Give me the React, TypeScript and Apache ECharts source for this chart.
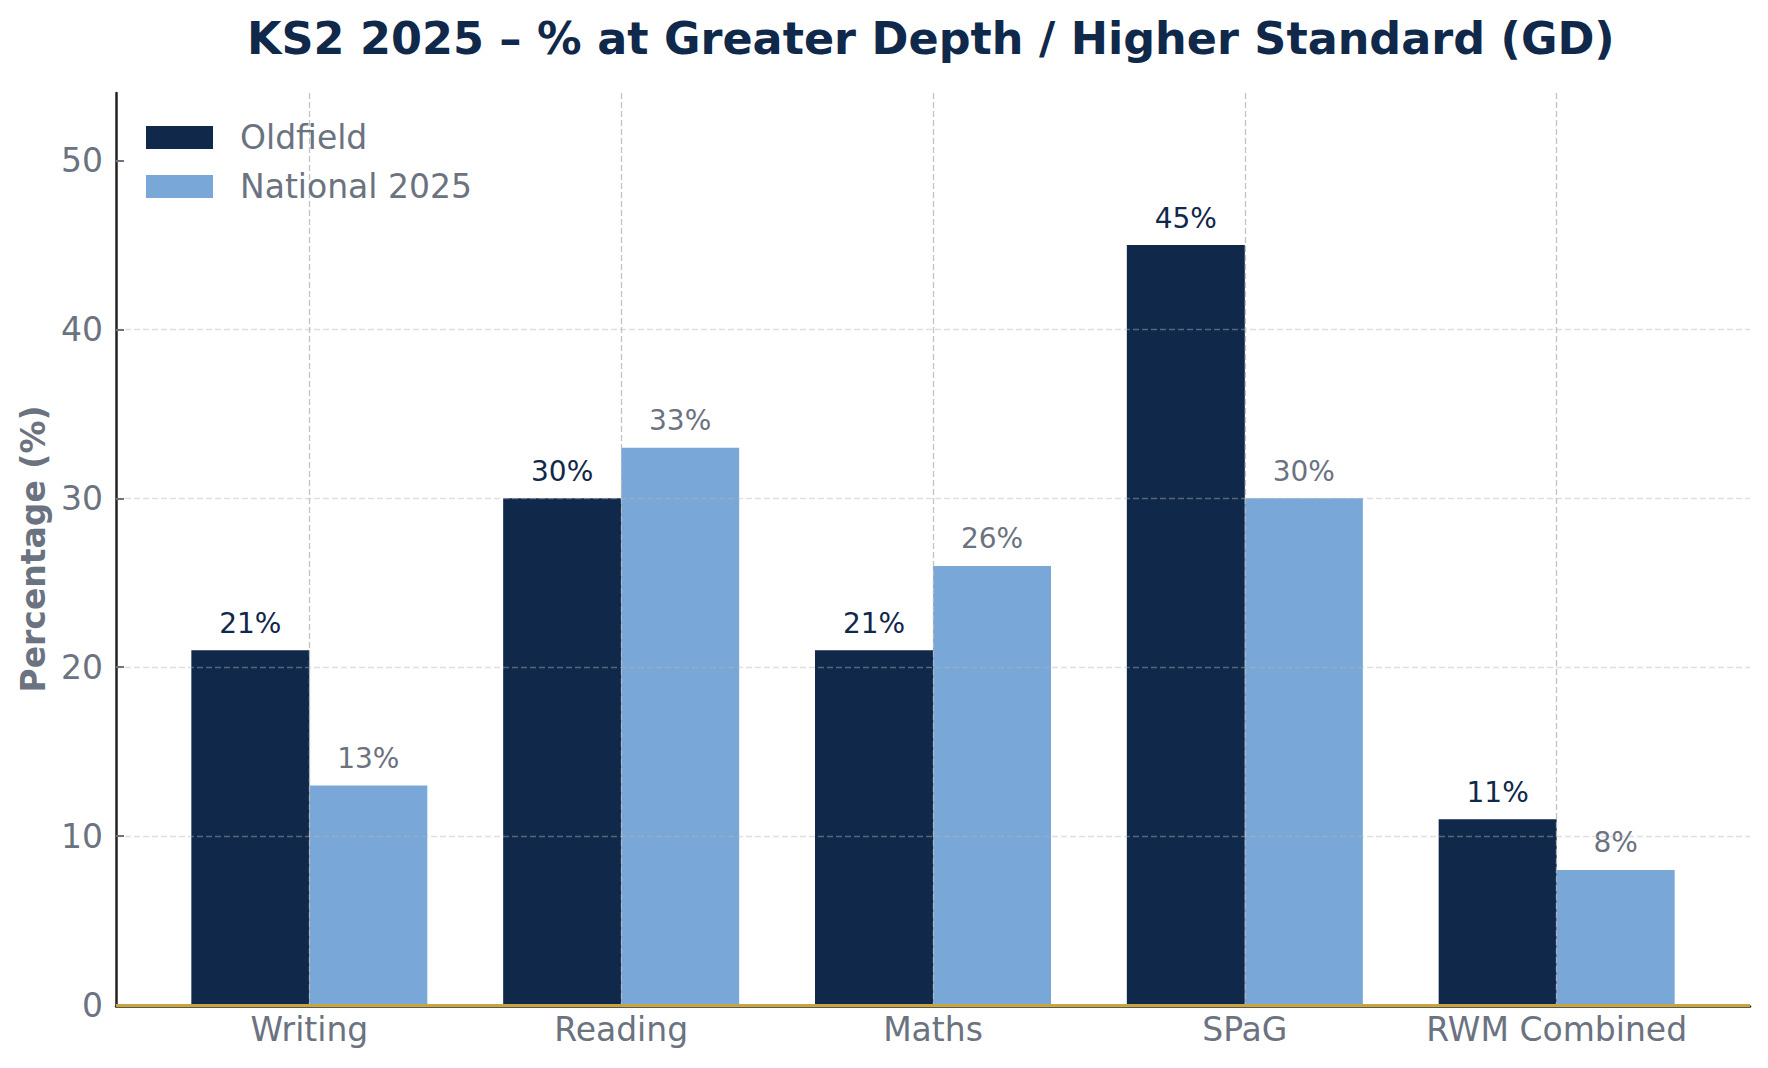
import React, { useEffect, useRef } from "react";
import * as echarts from "echarts";

const categories = ["Writing", "Reading", "Maths", "SPaG", "RWM Combined"];
const oldfield = [21, 30, 21, 45, 11];
const national = [13, 33, 26, 30, 8];
const yTicks = [0, 10, 20, 30, 40, 50];
const seriesNames = ["Oldfield", "National 2025"];
const titleText = "KS2 2025 – % at Greater Depth / Higher Standard (GD)";

const NAVY = "#10284a";
const BLUE = "#78a7d8";
const GRAY = "#6b7280";
const FONT = "DejaVu Sans";

export default function App() {
  const ref = useRef<HTMLDivElement>(null);
  useEffect(() => {
    document.body.style.margin = "0";
    if (!ref.current) return;
    const chart = echarts.init(ref.current, null, { renderer: "svg" });
    const gridH = {
      color: "rgba(185,185,185,0.44)",
      width: 1.3,
      type: [6, 3] as any,
    };
    chart.setOption({
      animation: false,
      textStyle: { fontFamily: FONT },
      title: {
        text: titleText,
        left: 247,
        top: 16,
        padding: 0,
        textStyle: { fontFamily: FONT, fontSize: 44.5, fontWeight: "bold", color: NAVY },
      },
      legend: {
        orient: "vertical",
        left: 146,
        top: 121,
        padding: 0,
        itemGap: 16,
        itemWidth: 67,
        itemHeight: 23,
        icon: "rect",
        data: seriesNames,
        textStyle: { fontFamily: FONT, fontSize: 33, color: GRAY, padding: [0, 0, 0, 22] },
      },
      grid: { left: 116, right: 18, top: 93, bottom: 63, containLabel: false },
      xAxis: {
        type: "value",
        min: -0.62,
        max: 4.62,
        splitNumber: 5,
        z: 3,
        offset: 1,
        axisLine: { show: true, onZero: false, lineStyle: { color: "#222", width: 2.5 } },
        axisTick: { show: false },
        axisLabel: {
          fontFamily: FONT,
          fontSize: 33,
          color: GRAY,
          margin: 7,
          formatter: (v: number) =>
            Number.isInteger(v) && v >= 0 && v < categories.length ? categories[v] : "",
        },
        splitLine: {
          show: true,
          showMinLine: false,
          showMaxLine: false,
          lineStyle: { color: "rgba(185,185,185,0.85)", width: 1.3, type: [6, 3] },
        },
      },
      yAxis: {
        type: "value",
        min: 0,
        max: 54,
        interval: 10,
        z: 3,
        name: "Percentage (%)",
        nameLocation: "middle",
        nameGap: 64,
        nameTextStyle: { fontFamily: FONT, fontSize: 33, fontWeight: "bold", color: GRAY },
        axisLine: { show: true, onZero: false, lineStyle: { color: "#222", width: 2.5 } },
        axisTick: {
          show: true,
          inside: true,
          length: 8,
          customValues: yTicks,
          lineStyle: { color: GRAY, width: 2 },
        },
        axisLabel: {
          fontFamily: FONT,
          fontSize: 33,
          color: GRAY,
          margin: 13,
          customValues: yTicks,
          formatter: (v: number) => (v % 10 === 0 ? String(v) : ""),
        },
        splitLine: {
          show: true,
          showMinLine: false,
          showMaxLine: false,
          lineStyle: gridH,
        },
      },
      series: [
        {
          name: seriesNames[0],
          type: "bar",
          barWidth: 118,
          barGap: "0%",
          itemStyle: { color: NAVY },
          data: oldfield.map((v, i) => [i, v]),
          label: {
            show: true,
            position: "top",
            distance: 13,
            fontFamily: FONT,
            fontSize: 28,
            color: NAVY,
            formatter: (p: any) => p.value[1] + "%",
          },
        },
        {
          name: seriesNames[1],
          type: "bar",
          barWidth: 118,
          barGap: "0%",
          itemStyle: { color: BLUE },
          data: national.map((v, i) => [i, v]),
          label: {
            show: true,
            position: "top",
            distance: 13,
            fontFamily: FONT,
            fontSize: 28,
            color: GRAY,
            formatter: (p: any) => p.value[1] + "%",
          },
          markLine: {
            silent: true,
            symbol: "none",
            label: { show: false },
            lineStyle: { color: "#c9a63c", width: 3, type: "solid" },
            data: [{ yAxis: 0 }],
          },
        },
      ],
    });
    return () => chart.dispose();
  }, []);
  return <div ref={ref} style={{ width: 1768, height: 1068 }} />;
}
